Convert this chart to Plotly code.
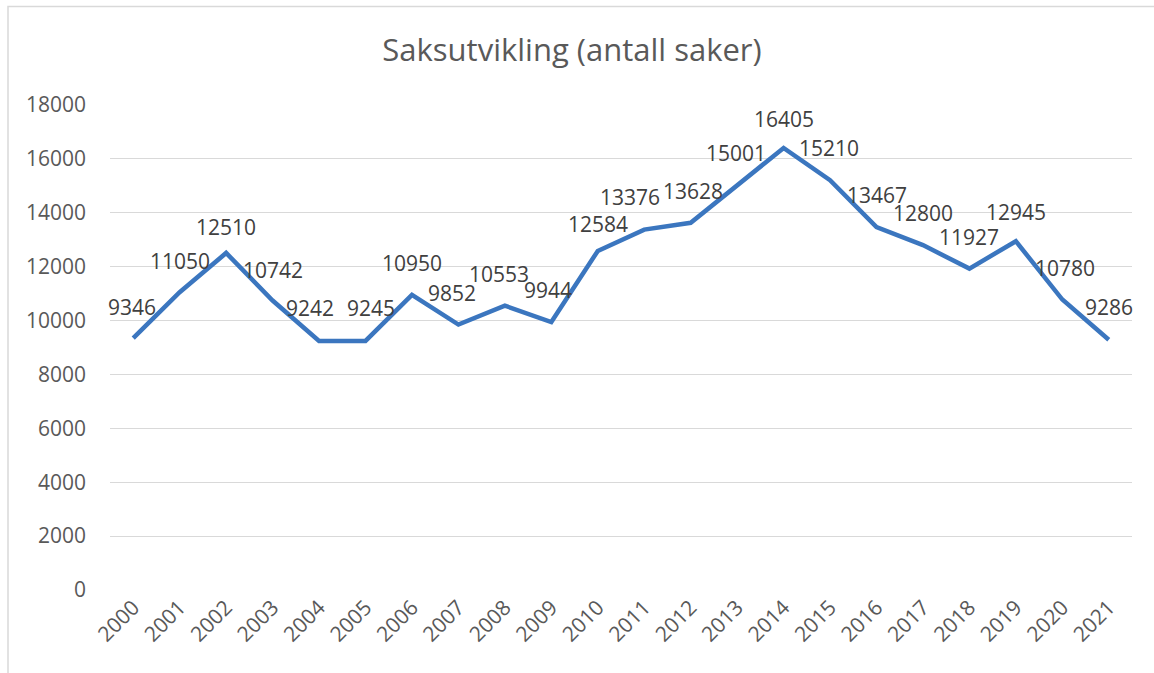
import plotly.graph_objects as go

years = [str(y) for y in range(2000, 2022)]
cases = [9346, 11050, 12510, 10742, 9242, 9245, 10950, 9852, 10553, 9944,
         12584, 13376, 13628, 15001, 16405, 15210, 13467, 12800, 11927, 12945,
         10780, 9286]
y_ticks = list(range(0, 18001, 2000))
title_text = "Saksutvikling (antall saker)"

# label offsets in pixels (dx, dy up)
label_dx = [-1, 0, 0, 0, -9, 5, 0, -6, -6, -3, 0, -14, 2, -1, 0, -1, 0, 0, 0, 0, 3, 0]
label_dy = [31, 31, 26, 31, 33, 33, 32, 32, 32, 32, 27, 33, 32, 33, 29, 32, 32, 32, 32, 29, 32, 33]

FONT = "Open Sans"
W, H = 1154, 673
L, R, T, B = 110, 22, 105, 83
pw = W - L - R
ph = H - T - B

fig = go.Figure()
fig.add_trace(go.Scatter(
    x=years, y=cases, mode="lines",
    line=dict(color="#3B76BF", width=4.5),
    hoverinfo="x+y", showlegend=False,
))

annotations = []
for i, v in enumerate(cases):
    annotations.append(dict(
        x=i, y=v, xref="x", yref="y", text=str(v), showarrow=False,
        xanchor="center", yanchor="middle",
        xshift=label_dx[i], yshift=label_dy[i],
        font=dict(family=FONT, size=21, color="#404040"),
    ))

fig.update_layout(
    width=W, height=H,
    margin=dict(l=L, r=R, t=T, b=B, pad=0),
    paper_bgcolor="white", plot_bgcolor="white",
    title=dict(text=title_text, x=572 / W, xref="container", xanchor="center",
               y=1 - 50 / H, yref="container", yanchor="middle",
               font=dict(family=FONT, size=31, color="#595959")),
    xaxis=dict(type="category", showgrid=False, showline=False, zeroline=False,
               tickangle=-45, ticks="", range=[-0.5, len(years) - 0.5],
               tickfont=dict(family=FONT, size=21, color="#595959")),
    yaxis=dict(range=[0, 18000], tickvals=y_ticks, ticktext=[str(t) for t in y_ticks],
               showgrid=True, gridcolor="#D9D9D9", gridwidth=1.3,
               zeroline=False, showline=False, ticks="",
               ticklabelstandoff=23,
               tickfont=dict(family=FONT, size=21, color="#595959")),
    annotations=annotations,
    shapes=[dict(type="rect", xref="paper", yref="paper",
                 x0=(8 - L) / pw, x1=(W + 10 - L) / pw,
                 y0=(H - B - (H + 10)) / ph, y1=(H - B - 6.5) / ph,
                 line=dict(color="#D9D9D9", width=1.5), fillcolor="rgba(0,0,0,0)",
                 layer="above")],
)

fig.write_html("out.html", config={"displayModeBar": False},
               post_script="document.body.style.margin='0';document.body.style.overflow='hidden';")
